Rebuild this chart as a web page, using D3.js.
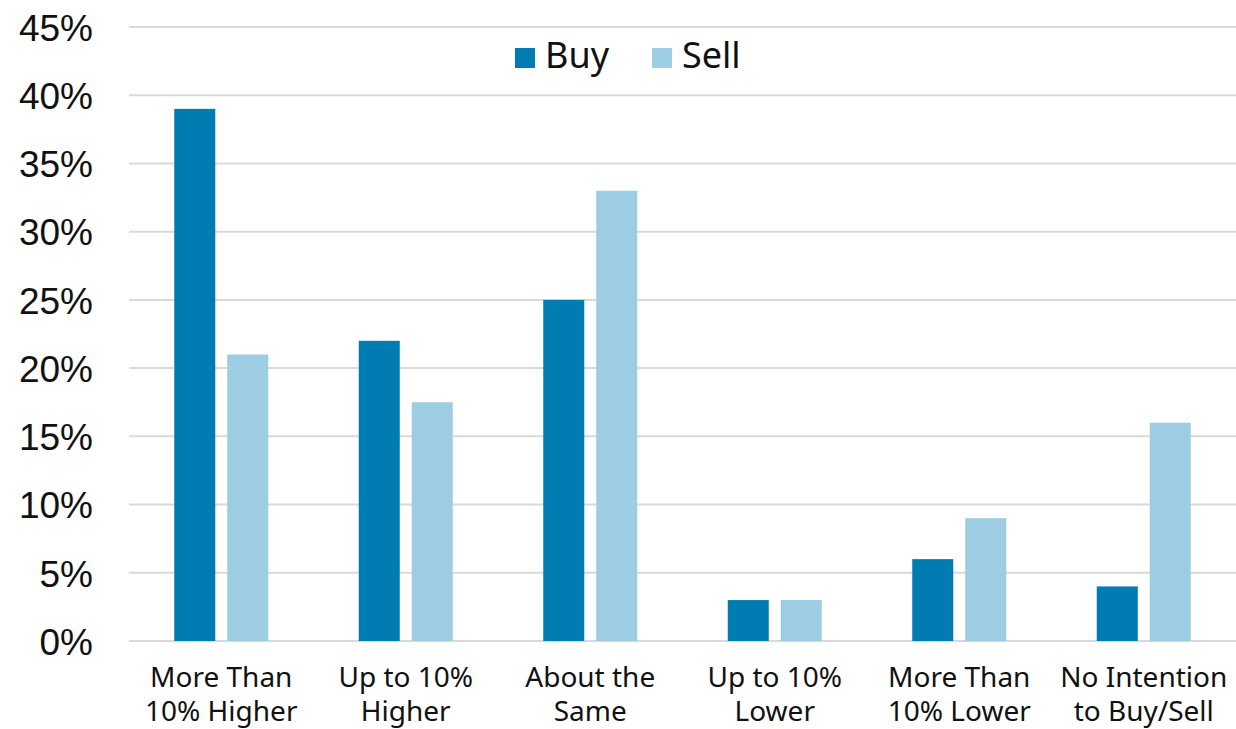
<!DOCTYPE html>
<html>
<head>
<meta charset="utf-8">
<script src="https://cdn.jsdelivr.net/npm/d3@7"></script>
<style>
  body { margin: 0; background: #fff; }
  svg { display: block; }
  .y_axis text { font-family: "Liberation Sans", Arial, sans-serif; font-size: 37px; fill: #111; }
  .x_label { font-family: "Noto Sans", sans-serif; font-size: 28px; fill: #111; }
  .legend text { font-family: "Noto Sans", sans-serif; font-size: 36px; fill: #111; }
</style>
</head>
<body>
<div id="chart"></div>
<script>
const categories = [
  ["More Than", "10% Higher"],
  ["Up to 10%", "Higher"],
  ["About the", "Same"],
  ["Up to 10%", "Lower"],
  ["More Than", "10% Lower"],
  ["No Intention", "to Buy/Sell"]
];
const buy = [39, 22, 25, 3, 6, 4];
const sell = [21, 17.5, 33, 3, 9, 16];
const seriesNames = ["Buy", "Sell"];
const yTicks = [0, 5, 10, 15, 20, 25, 30, 35, 40, 45];

const colors = { Buy: "#007cb3", Sell: "#9ccde2" };

const width = 1236, height = 729;
const padding = { left: 129, right: 0, top: 27, bottom: 88 };

const svg = d3.select("#chart").append("svg")
  .attr("width", width)
  .attr("height", height);

const yScale = d3.scaleLinear()
  .domain([0, 45])
  .range([height - padding.bottom, padding.top]);

const xScale = d3.scaleBand()
  .domain(d3.range(categories.length))
  .range([padding.left, width - padding.right]);

const inner = d3.scaleBand()
  .domain(seriesNames)
  .range([xScale.bandwidth() / 2 - 47, xScale.bandwidth() / 2 + 47])
  .paddingInner(0.226);

// gridlines
svg.append("g")
  .selectAll("line")
  .data(yTicks)
  .enter()
  .append("line")
  .attr("x1", padding.left)
  .attr("x2", width - padding.right)
  .attr("y1", d => yScale(d))
  .attr("y2", d => yScale(d))
  .attr("stroke", "#d9d9d9")
  .attr("stroke-width", 2);

// y axis
let yAxis = d3.axisLeft(yScale).tickValues(yTicks).tickSize(0).tickPadding(0).tickFormat(t => t + "%");
let gY = svg.append("g")
  .attr("class", "y_axis")
  .attr("transform", "translate(93, 0)")
  .call(yAxis);
gY.select(".domain").remove();
gY.selectAll("text").attr("dy", "0.36em");

// bars
const rows = categories.map((c, i) => ({ i, Buy: buy[i], Sell: sell[i] }));

const groups = svg.append("g")
  .selectAll("g")
  .data(rows)
  .enter()
  .append("g")
  .attr("transform", d => "translate(" + xScale(d.i) + ",0)");

groups.selectAll("rect")
  .data(d => seriesNames.map(s => ({ s, v: d[s] })))
  .enter()
  .append("rect")
  .attr("x", d => inner(d.s))
  .attr("width", inner.bandwidth())
  .attr("y", d => yScale(d.v))
  .attr("height", d => yScale(0) - yScale(d.v))
  .attr("fill", d => colors[d.s]);

// category labels
const labels = svg.append("g")
  .selectAll("text")
  .data(categories)
  .enter()
  .append("text")
  .attr("class", "x_label")
  .attr("text-anchor", "middle")
  .attr("x", (d, i) => xScale(i) + xScale.bandwidth() / 2)
  .attr("y", 687);

labels.selectAll("tspan")
  .data(d => d)
  .enter()
  .append("tspan")
  .attr("x", function() { return d3.select(this.parentNode).attr("x"); })
  .attr("dy", (d, i) => i === 0 ? 0 : 34)
  .text(d => d);

// legend
const legendX = [515, 652];
const legend = svg.append("g").attr("class", "legend");
seriesNames.forEach((s, i) => {
  legend.append("rect")
    .attr("x", legendX[i])
    .attr("y", 48)
    .attr("width", 20)
    .attr("height", 20)
    .attr("fill", colors[s]);
  legend.append("text")
    .attr("x", legendX[i] + 30)
    .attr("y", 68)
    .text(s);
});
</script>
</body>
</html>
